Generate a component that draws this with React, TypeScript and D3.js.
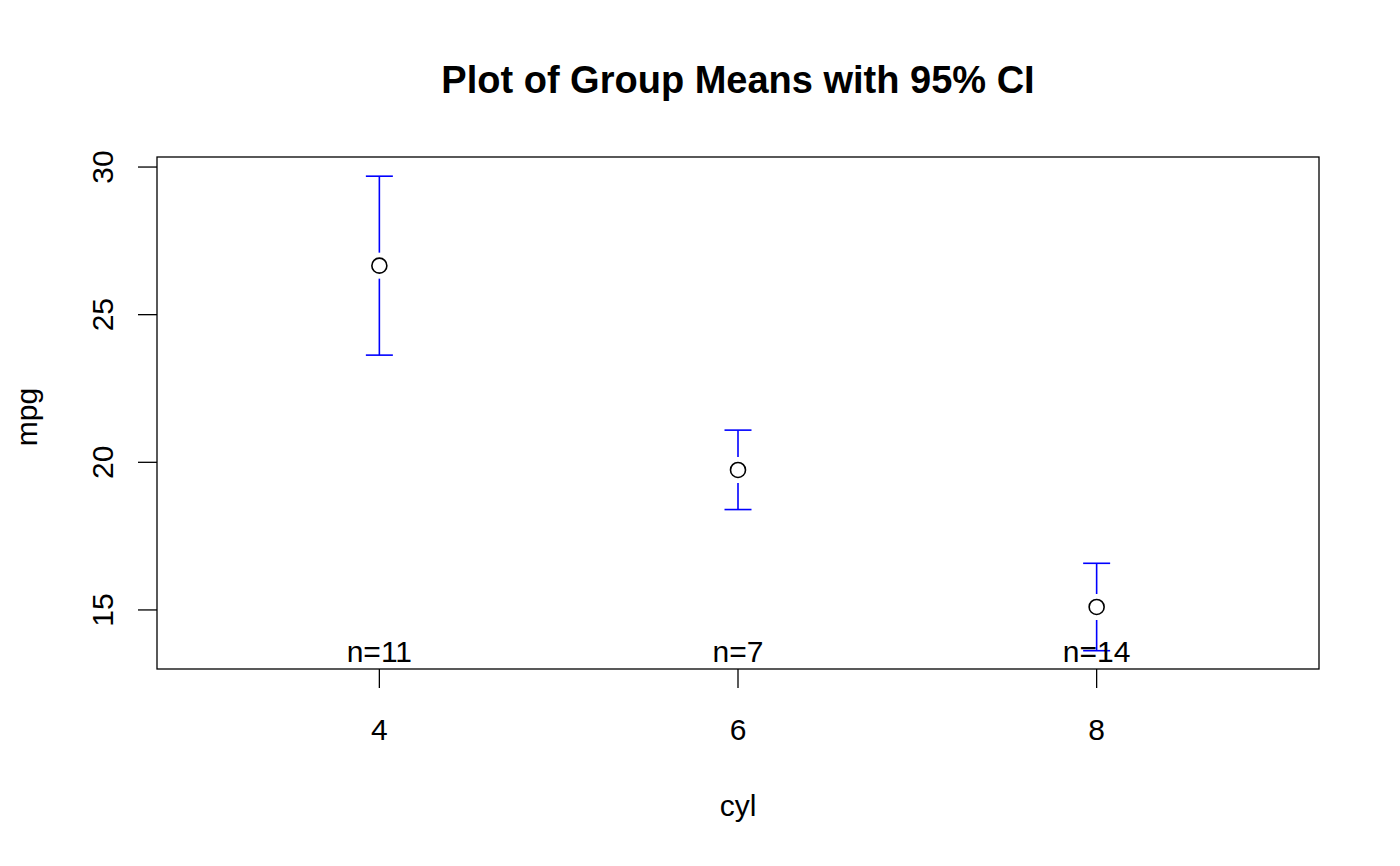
import React from "react";
import * as d3 from "d3";

const categories = ["4", "6", "8"];
const means = [26.66, 19.74, 15.10];
const lower = [23.63, 18.40, 13.62];
const upper = [29.69, 21.09, 16.58];
const counts = [11, 7, 14];
const yTicks = [15, 20, 25, 30];

const W = 1400, H = 866;
const left = 157, right = 1319, top = 157, bottom = 669;

export default function App() {
  const x = d3.scaleLinear().domain([0.38, 3.62]).range([left, right]);
  const y = d3.scaleLinear().domain([13.0, 30.34]).range([bottom, top]);
  const font = "'Liberation Sans', Arial, Helvetica, sans-serif";
  const r = 7.5, gap = 13, cap = 13.5;
  const fs = 30;
  return (
    <svg width={W} height={H} style={{ position: "absolute", left: 0, top: 0, background: "#fff" }} fontFamily={font}>
      <rect x={0} y={0} width={W} height={H} fill="#fff" />
      <text x={738} y={93} textAnchor="middle" fontSize={38} fontWeight="bold">Plot of Group Means with 95% CI</text>
      <rect x={left} y={top} width={right - left} height={bottom - top} fill="none" stroke="#000" strokeWidth={1.3} />
      {yTicks.map((t) => (
        <g key={t}>
          <line x1={138} x2={left} y1={y(t)} y2={y(t)} stroke="#000" strokeWidth={1.3} />
          <text transform={`translate(${113},${y(t)}) rotate(-90)`} textAnchor="middle" fontSize={fs}>{t}</text>
        </g>
      ))}
      {categories.map((c, i) => (
        <g key={c}>
          <line x1={x(i + 1)} x2={x(i + 1)} y1={bottom} y2={bottom + 19} stroke="#000" strokeWidth={1.3} />
          <text x={x(i + 1)} y={740} textAnchor="middle" fontSize={fs}>{c}</text>
        </g>
      ))}
      <text x={738} y={816} textAnchor="middle" fontSize={fs}>cyl</text>
      <text transform={`translate(${37},${417}) rotate(-90)`} textAnchor="middle" fontSize={fs}>mpg</text>
      {categories.map((c, i) => {
        const cx = x(i + 1);
        const cy = y(means[i]);
        return (
          <g key={"e" + c}>
            <line x1={cx} x2={cx} y1={y(upper[i])} y2={cy - gap} stroke="#0000ff" strokeWidth={1.6} />
            <line x1={cx} x2={cx} y1={cy + gap} y2={y(lower[i])} stroke="#0000ff" strokeWidth={1.6} />
            <line x1={cx - cap} x2={cx + cap} y1={y(upper[i])} y2={y(upper[i])} stroke="#0000ff" strokeWidth={1.6} />
            <line x1={cx - cap} x2={cx + cap} y1={y(lower[i])} y2={y(lower[i])} stroke="#0000ff" strokeWidth={1.6} />
            <circle cx={cx} cy={cy} r={r} fill="none" stroke="#000" strokeWidth={1.6} />
            <text x={cx} y={662} textAnchor="middle" fontSize={fs}>{"n=" + counts[i]}</text>
          </g>
        );
      })}
    </svg>
  );
}
